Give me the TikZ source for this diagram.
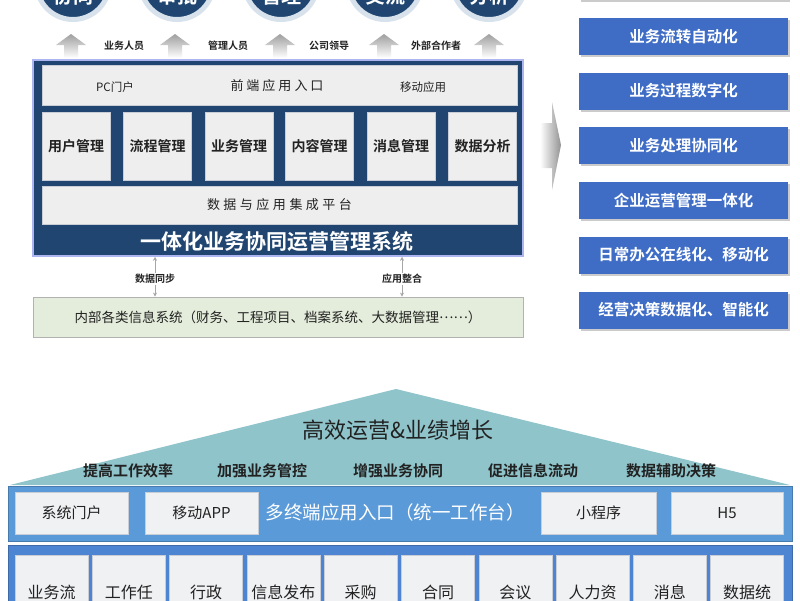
\documentclass[tikz,border=0pt]{standalone}
\usepackage{fontspec}
\setmainfont{Noto Sans CJK SC}[BoldFont={Noto Sans CJK SC Bold}]
\usetikzlibrary{shadows,arrows.meta}
\definecolor{navy}{HTML}{1F4570}
\definecolor{halo}{HTML}{D8E2EC}
\definecolor{panel}{HTML}{EEEEEE}
\definecolor{panelline}{HTML}{C9CED6}
\definecolor{rblue}{HTML}{3F6DC6}
\definecolor{roof}{HTML}{8FC4CA}
\definecolor{barA}{HTML}{5A9AD8}
\definecolor{barB}{HTML}{4D85D2}
\definecolor{cell}{HTML}{F0F1F3}
\definecolor{greenbox}{HTML}{E4EDDB}
\definecolor{txt}{HTML}{222222}
\newcommand{\fsz}[1]{\fontsize{#1}{#1}\selectfont}
\begin{document}
\begin{tikzpicture}[x=1pt,y=-1pt,
  halocircle/.style={circle,fill=navy,draw=halo,line width=5,minimum size=73,inner sep=0},
  circtext/.style={anchor=base,text=white,font=\fsz{20}\bfseries},
  who/.style={font=\fsz{10}\bfseries,text=txt},
  panelbox/.style={fill=panel,draw=panelline,line width=0.6,inner sep=0,text=txt},
  modbox/.style={panelbox,minimum width=68,minimum height=68,font=\fsz{14}\bfseries},
  rbox/.style={fill=rblue,text=white,font=\fsz{15.5}\bfseries,minimum width=209,minimum height=37,inner sep=0,
    drop shadow={shadow xshift=2pt,shadow yshift=-2pt,fill=gray!45,opacity=0.9}},
  cellA/.style={fill=cell,draw=panelline,line width=0.6,minimum height=42,inner sep=0,font=\fsz{15},text=txt},
  cellB/.style={fill=cell,draw=panelline,line width=0.6,minimum width=73,minimum height=80,inner sep=0},
  celltext/.style={font=\fsz{16},text=txt},
  goal/.style={font=\fsz{15}\bfseries,text=txt},
  smallarr/.style={draw=gray!70,line width=0.8,-{Stealth[length=4pt,width=4pt]}}
]
\useasboundingbox (0,0) rectangle (800,600);
\clip (0,0) rectangle (800,600);
\fill[white] (0,0) rectangle (800,600);

% top circles
\node[halocircle] (c1) at (73,-17) {};
\node[halocircle] (c2) at (177,-17) {};
\node[halocircle] (c3) at (281,-17) {};
\node[halocircle] (c4) at (385,-17) {};
\node[halocircle] (c5) at (489,-17) {};
\node[circtext] (t1) at (73,3) {协同};
\node[circtext] (t2) at (177,3) {审批};
\node[circtext] (t3) at (281,3) {管理};
\node[circtext] (t4) at (385,3) {交流};
\node[circtext] (t5) at (489,3) {分析};

% up arrows
\foreach \x in {71,175,280,384,489}{
  \shade[top color=gray!75,bottom color=white]
    (\x,34) -- (\x+15,45) -- (\x+7,45) -- (\x+7,58) -- (\x-7,58) -- (\x-7,45) -- (\x-15,45) -- cycle;
}
\node[who] (w1) at (124,46) {业务人员};
\node[who] (w2) at (228,46) {管理人员};
\node[who] (w3) at (329,46) {公司领导};
\node[who] (w4) at (436,46) {外部合作者};

% main system box
\node[fill=navy,draw=halo!80!blue,line width=1.5,minimum width=490,minimum height=196,inner sep=0] (main) at (278,158) {};
\node[panelbox,minimum width=475,minimum height=40] (front) at (279.5,85) {};
\node[font=\fsz{11.5},text=txt] (pc) at (115,87) {PC门户};
\node[font=\fsz{13},text=txt] (fe) at (277,86) {前\hspace{3pt}端\hspace{3pt}应\hspace{3pt}用\hspace{3pt}入\hspace{3pt}口};
\node[font=\fsz{11.5},text=txt] (mob) at (423,87) {移动应用};
\node[modbox] (m1) at (76,146) {用户管理};
\node[modbox] (m2) at (157.5,146) {流程管理};
\node[modbox] (m3) at (239,146) {业务管理};
\node[modbox] (m4) at (319.5,146) {内容管理};
\node[modbox] (m5) at (401,146) {消息管理};
\node[modbox] (m6) at (482.5,146) {数据分析};
\node[panelbox,minimum width=475,minimum height=38,font=\fsz{13}] (integ) at (279.5,205)
  {数\hspace{3.5pt}据\hspace{3.5pt}与\hspace{3.5pt}应\hspace{3.5pt}用\hspace{3.5pt}集\hspace{3.5pt}成\hspace{3.5pt}平\hspace{3.5pt}台};
\node[text=white,font=\fsz{21}\bfseries] (title) at (277,242) {一体化业务协同运营管理系统};

% link labels
\node[who,inner sep=1] (sync) at (155,279) {数据同步};
\node[who,inner sep=1] (app) at (402,279) {应用整合};
\node[fill=greenbox,draw=gray!60,line width=0.8,minimum width=490,minimum height=40,inner sep=0,font=\fsz{13.5},text=txt] (inner) at (278,317)
  {内部各类信息系统（财务、工程项目、档案系统、大数据管理\raisebox{4pt}{……}）};
\draw[smallarr] (sync.north) -- (sync.north |- main.south);
\draw[smallarr] (sync.south) -- (sync.south |- inner.north);
\draw[smallarr] (app.north) -- (app.north |- main.south);
\draw[smallarr] (app.south) -- (app.south |- inner.north);

% chevron
\shade[left color=white,right color=gray!85]
  (540,123) -- (552,123) -- (552,102) -- (561,145) -- (552,190) -- (552,168) -- (540,168) -- cycle;

% right boxes
\node[rbox] (r0) at (683.5,-19) {};
\node[rbox] (r1) at (683.5,36.5) {业务流转自动化};
\node[rbox] (r2) at (683.5,91) {业务过程数字化};
\node[rbox] (r3) at (683.5,145.5) {业务处理协同化};
\node[rbox] (r4) at (683.5,200.5) {企业运营管理一体化};
\node[rbox] (r5) at (683.5,255) {日常办公在线化、移动化};
\node[rbox] (r6) at (683.5,310) {经营决策数据化、智能化};

% roof
\fill[roof] (10,485) -- (396,389) -- (790,485) -- cycle;
\node[font=\fsz{22},text=txt] (roofT) at (398,430) {高效运营\&业绩增长};
\node[goal] (g1) at (128,471) {提高工作效率};
\node[goal] (g2) at (262,471) {加强业务管控};
\node[goal] (g3) at (398,471) {增强业务协同};
\node[goal] (g4) at (533,471) {促进信息流动};
\node[goal] (g5) at (671,471) {数据辅助决策};

% entry bar
\node[fill=barA,draw=barA!80!black,line width=0.5,minimum width=784,minimum height=55,inner sep=0] (barA) at (400,513.5) {};
\node[cellA,minimum width=113] (e1) at (71.5,513) {系统门户};
\node[cellA,minimum width=113] (e2) at (201.5,513) {移动APP};
\node[text=white,font=\fsz{18.5}] (ecenter) at (395,512) {多终端应用入口（统一工作台）};
\node[cellA,minimum width=115] (e3) at (598.5,513) {小程序};
\node[cellA,minimum width=112] (e4) at (727,513) {H5};

% module bar
\node[fill=barB,draw=barB!80!black,line width=0.5,minimum width=784,minimum height=95,inner sep=0] (barB) at (400,592.5) {};
\foreach \i/\t in {0/业务流,1/工作任,2/行政,3/信息发布,4/采购,5/合同,6/会议,7/人力资,8/消息,9/数据统}{
  \node[cellB] (b\i) at ({51.5+77.3*\i},595) {};
  \node[celltext] (bt\i) at ({51.5+77.3*\i},592) {\t};
}
\end{tikzpicture}
\end{document}
